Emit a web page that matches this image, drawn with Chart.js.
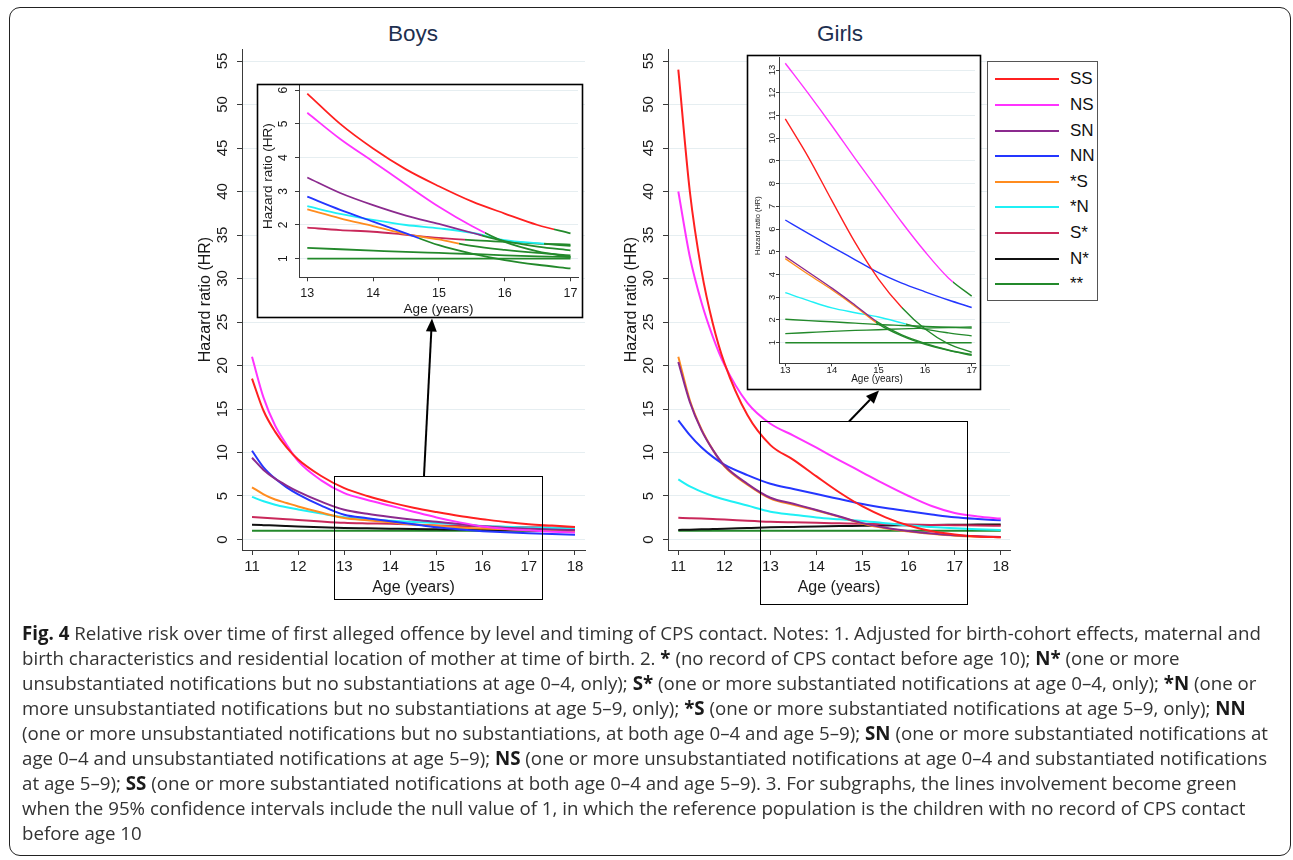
<!DOCTYPE html>
<html>
<head>
<meta charset="utf-8">
<script src="https://cdn.jsdelivr.net/npm/chart.js@4.4.1/dist/chart.umd.min.js"></script>
<style>
  html, body { margin: 0; padding: 0; background: #fff; }
  body { width: 1293px; height: 860px; position: relative; overflow: hidden; font-family: "Liberation Sans", Arial, sans-serif; }
  canvas { position: absolute; }
  #frame { position: absolute; left: 9px; top: 7px; width: 1282px; height: 849px; border: 1.5px solid #222; border-radius: 11px; box-sizing: border-box; }
  .ttl { position: absolute; top: 34px; font-size: 22.5px; color: #1e3050; transform: translate(-50%, -50%); white-space: nowrap; }
  .inset { position: absolute; background: #fff; }
  #legend { position: absolute; left: 987px; top: 61px; width: 111px; height: 240px; border: 1px solid #555; background: #fff; box-sizing: border-box; }
  #legend .sw { position: absolute; left: 7px; width: 64px; height: 2px; }
  #legend .tx { position: absolute; left: 82px; font-size: 17px; color: #111; transform: translateY(-50%); }
  #caption { position: absolute; left: 22px; top: 619.5px; font-family: "Open Sans", "Noto Sans", sans-serif; font-size: 16px; line-height: 25.1px; color: #333; white-space: nowrap; }
  #caption b { color: #1a1a1a; }
  #overlay { position: absolute; left: 0; top: 0; }
</style>
</head>
<body>
<div id="frame"></div>
<div class="ttl" style="left:413px">Boys</div>
<div class="ttl" style="left:840px">Girls</div>

<canvas id="boysMain" width="400" height="557" style="left:190px;top:40px"></canvas>
<canvas id="girlsMain" width="400" height="557" style="left:616px;top:40px"></canvas>
<div class="inset" style="left:257px;top:84px;width:326px;height:234px"></div>
<canvas id="boysInset" width="326" height="234" style="left:257px;top:84px"></canvas>
<div class="inset" style="left:747px;top:55px;width:234px;height:335px"></div>
<canvas id="girlsInset" width="234" height="335" style="left:747px;top:55px"></canvas>
<div id="legend"></div>

<svg id="overlay" width="1293" height="860">
  <rect x="334.5" y="476.5" width="208" height="123" fill="none" stroke="#000" stroke-width="1"/>
  <rect x="760.5" y="421.5" width="207" height="183" fill="none" stroke="#000" stroke-width="1"/>
  <rect x="257.5" y="84.5" width="325" height="233" fill="none" stroke="#000" stroke-width="1.6"/>
  <rect x="747.5" y="55.5" width="233" height="334" fill="none" stroke="#000" stroke-width="1.6"/>
  <line x1="424" y1="476" x2="431.3" y2="331" stroke="#000" stroke-width="2"/>
  <polygon points="432,318.5 436.8,331.8 425.9,331.2" fill="#000"/>
  <line x1="849" y1="421.5" x2="870" y2="399.8" stroke="#000" stroke-width="2"/>
  <polygon points="879,390.5 873.9,403.7 866,396" fill="#000"/>
</svg>

<div id="caption">
  <div class="ln"><span><b>Fig. 4</b> Relative risk over time of first alleged offence by level and timing of CPS contact. Notes: 1. Adjusted for birth-cohort effects, maternal and</span></div>
  <div class="ln"><span>birth characteristics and residential location of mother at time of birth. 2. <b>*</b> (no record of CPS contact before age 10); <b>N*</b> (one or more</span></div>
  <div class="ln"><span>unsubstantiated notifications but no substantiations at age 0–4, only); <b>S*</b> (one or more substantiated notifications at age 0–4, only); <b>*N</b> (one or</span></div>
  <div class="ln"><span>more unsubstantiated notifications but no substantiations at age 5–9, only); <b>*S</b> (one or more substantiated notifications at age 5–9, only); <b>NN</b></span></div>
  <div class="ln"><span>(one or more unsubstantiated notifications but no substantiations, at both age 0–4 and age 5–9); <b>SN</b> (one or more substantiated notifications at</span></div>
  <div class="ln"><span>age 0–4 and unsubstantiated notifications at age 5–9); <b>NS</b> (one or more unsubstantiated notifications at age 0–4 and substantiated notifications</span></div>
  <div class="ln"><span>at age 5–9); <b>SS</b> (one or more substantiated notifications at both age 0–4 and age 5–9). 3. For subgraphs, the lines involvement become green</span></div>
  <div class="ln"><span>when the 95% confidence intervals include the null value of 1, in which the reference population is the children with no record of CPS contact</span></div>
  <div class="ln"><span>before age 10</span></div>
</div>

<script>
// ages sampled along the curves
const ages = [11, 11.25, 11.5, 11.75, 12, 12.5, 13, 13.5, 14, 14.5, 15, 15.5, 16, 16.5, 17, 17.5, 18];
const groups = ['SS', 'NS', 'SN', 'NN', '*S', '*N', 'S*', 'N*', '**'];
const colors = ['#ff2020', '#ff33ff', '#8b2a8e', '#2436ff', '#ff8c1f', '#1ff0f5', '#c9285a', '#111111', '#23892b'];
const GREEN = '#23892b';

// Boys hazard ratios
const boysSS = [18.5, 14.8, 12.4, 10.6, 9.2, 7.3, 5.9, 5.0, 4.27, 3.65, 3.15, 2.7, 2.34, 2.0, 1.75, 1.6, 1.45];
const boysNS = [21.0, 16.3, 13.1, 10.9, 9.0, 6.8, 5.33, 4.55, 3.88, 3.2, 2.54, 1.97, 1.5, 1.22, 1.05, 0.9, 0.8];
const boysSN = [9.4, 8.0, 7.0, 6.2, 5.5, 4.35, 3.41, 2.95, 2.59, 2.28, 2.03, 1.77, 1.52, 1.36, 1.25, 1.15, 1.08];
const boysNN = [10.2, 8.3, 7.0, 6.0, 5.2, 3.9, 2.84, 2.45, 2.1, 1.75, 1.4, 1.15, 0.96, 0.82, 0.71, 0.62, 0.56];
const boysStarS = [6.0, 5.2, 4.6, 4.2, 3.8, 3.1, 2.46, 2.2, 1.97, 1.73, 1.57, 1.38, 1.26, 1.17, 1.1, 1.03, 0.98];
const boysStarN = [4.9, 4.4, 4.0, 3.7, 3.45, 2.98, 2.56, 2.33, 2.15, 2.0, 1.9, 1.77, 1.55, 1.46, 1.38, 1.31, 1.25];
const boysSStar = [2.6, 2.5, 2.4, 2.32, 2.25, 2.07, 1.92, 1.85, 1.8, 1.71, 1.62, 1.55, 1.5, 1.45, 1.42, 1.38, 1.35];
const boysNStar = [1.7, 1.65, 1.6, 1.55, 1.5, 1.4, 1.32, 1.28, 1.24, 1.2, 1.17, 1.14, 1.1, 1.07, 1.05, 1.03, 1.0];
const boysNone = [1, 1, 1, 1, 1, 1, 1, 1, 1, 1, 1, 1, 1, 1, 1, 1, 1];

// Girls hazard ratios
const girlsSS = [54.0, 40.0, 31.0, 24.8, 20.3, 14.3, 10.85, 9.15, 7.25, 5.4, 3.8, 2.55, 1.6, 0.95, 0.58, 0.35, 0.25];
const girlsNS = [40.0, 32.5, 27.3, 23.3, 20.1, 15.7, 13.3, 11.95, 10.55, 9.1, 7.7, 6.3, 5.0, 3.85, 3.05, 2.65, 2.4];
const girlsSN = [20.4, 15.8, 12.6, 10.3, 8.5, 6.4, 4.8, 4.1, 3.4, 2.65, 1.88, 1.34, 0.97, 0.68, 0.48, 0.36, 0.28];
const girlsNN = [13.7, 12.0, 10.6, 9.5, 8.6, 7.4, 6.4, 5.8, 5.22, 4.65, 4.08, 3.62, 3.24, 2.88, 2.55, 2.35, 2.2];
const girlsStarS = [21.0, 16.0, 12.7, 10.3, 8.4, 6.3, 4.7, 4.0, 3.33, 2.6, 1.82, 1.3, 0.93, 0.66, 0.44, 0.32, 0.26];
const girlsStarN = [6.9, 6.1, 5.5, 5.0, 4.6, 3.9, 3.2, 2.85, 2.53, 2.32, 2.13, 1.87, 1.6, 1.43, 1.3, 1.18, 1.08];
const girlsSStar = [2.5, 2.45, 2.4, 2.35, 2.3, 2.15, 2.03, 1.97, 1.92, 1.86, 1.8, 1.76, 1.72, 1.68, 1.64, 1.6, 1.57];
const girlsNStar = [1.1, 1.13, 1.17, 1.2, 1.23, 1.32, 1.4, 1.45, 1.5, 1.54, 1.57, 1.61, 1.64, 1.67, 1.69, 1.71, 1.73];
const girlsNone = [1, 1, 1, 1, 1, 1, 1, 1, 1, 1, 1, 1, 1, 1, 1, 1, 1];

// age from which the 95% CI includes 1 (line turns green in the subgraphs)
const boysGreenFrom = [16.75, 15.7, 15.65, 14.7, 15.3, 16.6, 15.4, 0, 0];
const girlsGreenFrom = [15.5, 16.6, 14.95, 99, 14.95, 15.6, 0, 0, 0];

// ticks
const mainXTicks = [11, 12, 13, 14, 15, 16, 17, 18];
const mainYTicks = [0, 5, 10, 15, 20, 25, 30, 35, 40, 45, 50, 55];
const insetXTicks = [13, 14, 15, 16, 17];
const boysInsetYTicks = [1, 2, 3, 4, 5, 6];
const girlsInsetYTicks = [1, 2, 3, 4, 5, 6, 7, 8, 9, 10, 11, 12, 13];

const boysSeries = [boysSS, boysNS, boysSN, boysNN, boysStarS, boysStarN, boysSStar, boysNStar, boysNone];
const girlsSeries = [girlsSS, girlsNS, girlsSN, girlsNN, girlsStarS, girlsStarN, girlsSStar, girlsNStar, girlsNone];

Chart.defaults.font.family = '"Liberation Sans", Arial, sans-serif';
Chart.defaults.color = '#1a1a1a';

const AXIS = '#3a3a3a';
const GRID = '#e6eef1';

// rotated y tick labels + y title, the Stata way
const stataY = {
    id: 'stataY',
    afterDraw(chart, args, o) {
        const ys = chart.scales.y;
        const area = chart.chartArea;
        const ctx = chart.ctx;
        ctx.save();
        ctx.fillStyle = '#1a1a1a';
        ctx.textAlign = 'center';
        ctx.textBaseline = 'middle';
        ctx.font = o.tickSize + 'px "Liberation Sans", Arial, sans-serif';
        ys.ticks.forEach(t => {
            ctx.save();
            ctx.translate(area.left - o.tickOff, ys.getPixelForValue(t.value));
            ctx.rotate(-Math.PI / 2);
            ctx.fillText(String(t.value), 0, 0);
            ctx.restore();
        });
        ctx.font = o.titleSize + 'px "Liberation Sans", Arial, sans-serif';
        ctx.translate(area.left - o.titleOff, (area.top + area.bottom) / 2 + o.titleDy);
        ctx.rotate(-Math.PI / 2);
        ctx.fillText('Hazard ratio (HR)', 0, 0);
        ctx.restore();
    }
};

function splitColor(chart, base, from) {
    if (from <= 13) return GREEN;
    if (from >= 17) return base;
    const area = chart.chartArea;
    if (!area) return base;
    const f = (chart.scales.x.getPixelForValue(from) - area.left) / (area.right - area.left);
    const g = chart.ctx.createLinearGradient(area.left, 0, area.right, 0);
    g.addColorStop(0, base);
    g.addColorStop(f, base);
    g.addColorStop(f, GREEN);
    g.addColorStop(1, GREEN);
    return g;
}

function mainDatasets(series) {
    return series.map((vals, i) => ({
        label: groups[i],
        data: ages.map((a, k) => ({ x: a, y: vals[k] })),
        borderColor: colors[i],
        borderWidth: 2,
        pointRadius: 0,
        cubicInterpolationMode: 'monotone',
        fill: false
    }));
}

function insetDatasets(series, greenFrom, width) {
    return series.map((vals, i) => ({
        label: groups[i],
        data: ages.map((a, k) => ({ x: a, y: vals[k] })).filter(p => p.x >= 13 && p.x <= 17),
        borderColor: c => splitColor(c.chart, colors[i], greenFrom[i]),
        borderWidth: width,
        pointRadius: 0,
        cubicInterpolationMode: 'monotone',
        fill: false
    }));
}

function makeChart(id, datasets, c) {
    return new Chart(document.getElementById(id), {
        type: 'line',
        data: { datasets },
        plugins: [stataY],
        options: {
            responsive: false,
            animation: false,
            events: [],
            layout: { padding: { top: c.padTop, right: c.padRight, left: 0, bottom: 0 } },
            plugins: {
                legend: { display: false },
                tooltip: { enabled: false },
                stataY: c.y
            },
            scales: {
                x: {
                    type: 'linear',
                    min: c.xmin, max: c.xmax,
                    afterBuildTicks: s => { s.ticks = c.xTicks.map(v => ({ value: v })); },
                    afterFit: s => { s.height = c.xH; s.paddingLeft = 0; s.paddingRight = 0; },
                    ticks: { autoSkip: false, maxRotation: 0, padding: c.xPad, font: { size: c.xTickSize }, color: '#1a1a1a', callback: v => String(v) },
                    grid: { drawOnChartArea: false, drawTicks: true, tickLength: c.tickLen, tickColor: AXIS },
                    border: { display: true, color: AXIS, width: 1 },
                    title: { display: true, text: 'Age (years)', font: { size: c.xTitleSize }, color: '#1a1a1a', padding: { top: 0, bottom: c.xTitlePad } }
                },
                y: {
                    type: 'linear',
                    min: c.ymin, max: c.ymax,
                    afterBuildTicks: s => { s.ticks = c.yTicks.map(v => ({ value: v })); },
                    afterFit: s => { s.width = c.yW; s.paddingTop = 0; s.paddingBottom = 0; },
                    ticks: { display: false },
                    grid: { color: GRID, lineWidth: 1, drawTicks: true, tickLength: c.tickLen, tickColor: AXIS },
                    border: { display: true, color: AXIS, width: 1 }
                }
            }
        }
    });
}

const mainCfg = {
    padTop: 9, xH: 47, yW: 52, ymin: -1.207, ymax: 56.38,
    xTicks: mainXTicks, yTicks: mainYTicks, tickLen: 5,
    xPad: 3, xTickSize: 15, xTitleSize: 16, xTitlePad: 0,
    y: { tickSize: 15, tickOff: 19, titleSize: 16, titleOff: 36, titleDy: 0 }
};

makeChart('boysMain', mainDatasets(boysSeries), Object.assign({}, mainCfg, { padRight: 5, xmin: 10.783, xmax: 18.217 }));
makeChart('girlsMain', mainDatasets(girlsSeries), Object.assign({}, mainCfg, { padRight: 6, xmin: 10.776, xmax: 18.201 }));

makeChart('boysInset', insetDatasets(boysSeries, boysGreenFrom, 1.8), {
    padTop: 1, padRight: 5, xH: 40.7, yW: 42,
    xmin: 12.874, xmax: 17.114, ymin: 0.448, ymax: 6.154,
    xTicks: insetXTicks, yTicks: boysInsetYTicks, tickLen: 4,
    xPad: 4.5, xTickSize: 12.5, xTitleSize: 13.5, xTitlePad: 0.6,
    y: { tickSize: 12, tickOff: 15.7, titleSize: 13.5, titleOff: 30.7, titleDy: -5 }
});

makeChart('girlsInset', insetDatasets(girlsSeries, girlsGreenFrom, 1.4), {
    padTop: 2, padRight: 6, xH: 26.7, yW: 32,
    xmin: 12.865, xmax: 17.071, ymin: 0.093, ymax: 13.575,
    xTicks: insetXTicks, yTicks: girlsInsetYTicks, tickLen: 3,
    xPad: -2, xTickSize: 9.5, xTitleSize: 10, xTitlePad: 4.5,
    y: { tickSize: 9.5, tickOff: 7, titleSize: 7.5, titleOff: 20.7, titleDy: 15.5 }
});

// legend
const legend = document.getElementById('legend');
groups.forEach((g, i) => {
    const cy = Math.round(17.3 + i * 25.6);
    const sw = document.createElement('div');
    sw.className = 'sw';
    sw.style.top = (cy - 1) + 'px';
    sw.style.background = colors[i];
    const tx = document.createElement('div');
    tx.className = 'tx';
    tx.style.top = cy + 'px';
    tx.textContent = g;
    legend.appendChild(sw);
    legend.appendChild(tx);
});

// fit the caption font so the first line spans the same width as the figure
const cap = document.getElementById('caption');
const firstLine = cap.querySelector('.ln span');
const w0 = firstLine.getBoundingClientRect().width;
cap.style.fontSize = (16 * 1239 / w0).toFixed(2) + 'px';
</script>
</body>
</html>
